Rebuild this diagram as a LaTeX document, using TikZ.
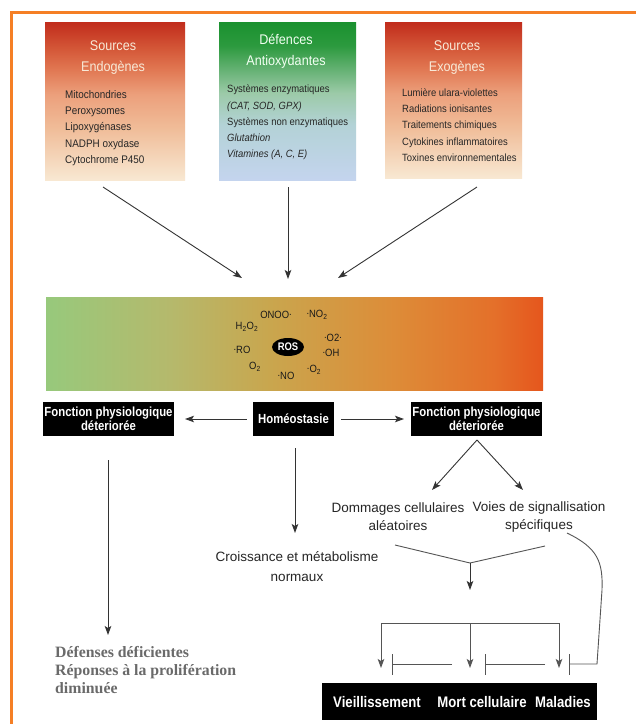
\documentclass[tikz,border=0pt]{standalone}
\usepackage{fontspec}
\setmainfont{Liberation Sans}
\newfontfamily\cond{Liberation Sans}[FakeStretch=0.9]
\newfontfamily\condb{Liberation Sans Bold}[FakeStretch=0.86]
\newfontfamily\serifb{Liberation Serif Bold}
\usetikzlibrary{arrows.meta,shapes.geometric}
\definecolor{orng}{HTML}{F57F25}
\definecolor{ink}{HTML}{333333}
\definecolor{gline}{HTML}{555555}
\definecolor{cream}{HTML}{F8EAD8}
\definecolor{greytxt}{HTML}{6A6A6A}
% source boxes
\definecolor{sA}{HTML}{F8E8D2}
\definecolor{sB}{HTML}{F0BC98}
\definecolor{sC}{HTML}{ECA07C}
\definecolor{sD}{HTML}{E07550}
\definecolor{sE}{HTML}{D35536}
\definecolor{sF}{HTML}{C12C1C}
% antioxidant box
\definecolor{gA}{HTML}{C4D4EE}
\definecolor{gB}{HTML}{B3D2D6}
\definecolor{gC}{HTML}{9CCAA8}
\definecolor{gD}{HTML}{5DAE6C}
\definecolor{gE}{HTML}{2C9A3E}
\definecolor{gF}{HTML}{1A912F}
% bar
\definecolor{bA}{HTML}{97C97C}
\definecolor{bB}{HTML}{B5B96C}
\definecolor{bC}{HTML}{C9A64E}
\definecolor{bD}{HTML}{DD8C38}
\definecolor{bE}{HTML}{E4702A}
\definecolor{bF}{HTML}{E5561D}
\pgfdeclareverticalshading{srcshade}{100bp}{color(0bp)=(sA); color(25bp)=(sA); color(41.5bp)=(sB); color(52bp)=(sC); color(60.5bp)=(sD); color(67bp)=(sE); color(75bp)=(sF); color(100bp)=(sF)}
\pgfdeclareverticalshading{antshade}{100bp}{color(0bp)=(gA); color(25bp)=(gA); color(42.5bp)=(gB); color(52.5bp)=(gC); color(61bp)=(gD); color(67.5bp)=(gE); color(75bp)=(gF); color(100bp)=(gF)}
\pgfdeclarehorizontalshading{barshade}{100bp}{color(0bp)=(bA); color(25bp)=(bA); color(37.5bp)=(bB); color(47.5bp)=(bC); color(60bp)=(bD); color(70bp)=(bE); color(75bp)=(bF); color(100bp)=(bF)}
\newcommand{\rdot}{\raisebox{0.55ex}{.}}
\begin{document}
\begin{tikzpicture}[x=1pt,y=-1pt,
  srcbox/.style={shade, shading=srcshade, minimum width=140pt, minimum height=158pt, inner sep=0pt},
  antbox/.style={shade, shading=antshade, minimum width=137pt, minimum height=158pt, inner sep=0pt},
  barbox/.style={shade, shading=barshade, minimum width=497pt, minimum height=93pt, inner sep=0pt},
  ttl/.style={font=\cond\fontsize{14}{21.5}\selectfont, text=cream, align=center, inner sep=0pt},
  lst/.style={font=\cond\fontsize{10.5}{16.2}\selectfont, align=left, anchor=west, text=black!85, inner sep=0pt},
  blk/.style={fill=black, text=white, font=\condb\fontsize{13.2}{13.5}\selectfont, align=center, inner sep=0pt, minimum height=34pt},
  ros/.style={font=\cond\fontsize{10.5}{11}\selectfont, inner sep=0pt, text=black!90},
  plain/.style={font=\fontsize{13.5}{18}\selectfont, align=center, inner sep=0pt, text=black!85},
  arr/.style={draw=ink, line width=0.9pt, -{Stealth[length=9pt,width=6.5pt,inset=2pt]}},
  garr/.style={draw=gline, line width=0.9pt, -{Stealth[length=9pt,width=6.5pt,inset=2pt]}},
  inh/.style={draw=gline, line width=0.9pt, -{Bar[width=21pt,line width=1pt]}},
  ln/.style={draw=gline, line width=0.9pt}]
\useasboundingbox (0,0) rectangle (636,724);
\fill[white] (0,0) rectangle (636,724);
\draw[orng, line width=3pt] (636,12) -- (11,12) -- (11,724);

% top boxes
\node[srcbox] (endo) at (115,101) {};
\node[antbox] (anti) at (287.5,101) {};
\node[srcbox, minimum width=137pt, minimum height=156pt] (exo) at (453.5,100) {};

\node[ttl] (endoT) at (113,57.5) {Sources\\Endogènes};
\node[lst, font=\cond\fontsize{11}{16.2}\selectfont] (endoL) at (65,128) {Mitochondries\\Peroxysomes\\Lipoxygénases\\NADPH oxydase\\Cytochrome P450};
\node[ttl, text=white!95!green] (antiT) at (286,51.5) {Défences\\Antioxydantes};
\node[lst] (antiL) at (227,122.6) {Systèmes enzymatiques\\\textit{(CAT, SOD, GPX)}\\Systèmes non enzymatiques\\\textit{Glutathion}\\\textit{Vitamines (A, C, E)}};
\node[ttl] (exoT) at (457,57.5) {Sources\\Exogènes};
\node[lst] (exoL) at (402,125) {Lumière ulara-violettes\\Radiations ionisantes\\Traitements chimiques\\Cytokines inflammatoires\\Toxines environnementales};

% arrows to bar
\coordinate (a1s) at (103,187); \coordinate (a1e) at (242,278);
\coordinate (a2s) at (288,187); \coordinate (a2e) at (288,279);
\coordinate (a3s) at (477,187); \coordinate (a3e) at (338,278);
\draw[arr] (a1s) -- (a1e);
\draw[arr] (a2s) -- (a2e);
\draw[arr] (a3s) -- (a3e);

% bar
\node[barbox] (bar) at (294.5,343.5) {};
\node[ellipse, fill=black, minimum width=32pt, minimum height=18pt, inner sep=0pt, text=white, font=\condb\fontsize{11}{11}\selectfont] (ros) at (288,347) {ROS};
\node[ros] (r1) at (276,315) {ONOO\rdot};
\node[ros] (r2) at (317,315) {\rdot NO\textsubscript{2}};
\node[ros] (r3) at (247,327) {H\textsubscript{2}O\textsubscript{2}};
\node[ros] (r4) at (333,338) {\rdot O2\rdot};
\node[ros] (r5) at (242,350) {\rdot RO};
\node[ros] (r6) at (331,353) {\rdot OH};
\node[ros] (r7) at (255,367) {O\textsubscript{2}};
\node[ros] (r8) at (286,376) {\rdot NO};
\node[ros] (r9) at (314,370) {\rdot O\textsubscript{2}};

% middle row
\node[blk, minimum width=131pt] (fpL) at (108.5,419) {Fonction physiologique\\déteriorée};
\node[blk, minimum width=81pt] (homeo) at (293.5,419) {Homéostasie};
\node[blk, minimum width=131pt] (fpR) at (476.5,419) {Fonction physiologique\\déteriorée};
\draw[arr] (homeo.west) ++(-6,0) coordinate (hl) (hl) -- (fpL.east -| 185,0);
\draw[arr] (homeo.east) ++(7,0) coordinate (hr) (hr) -- (fpR.west -| 404,0);

\node[plain] (dom) at (398,517) {Dommages cellulaires\\aléatoires};
\node[plain] (voies) at (539,517) {Voies de signallisation\\spécifiques};
\node[plain, font=\fontsize{13.5}{20}\selectfont] (crois) at (297,567) {Croissance et métabolisme\\normaux};

\coordinate (hd) at (295,448); \coordinate (hde) at (295,533);
\draw[arr] (hd) -- (hde);
\coordinate (fs) at (477,440);
\coordinate (fl) at (432,490); \coordinate (fr) at (523,490);
\draw[arr] (fs) -- (fl);
\draw[arr] (fs) -- (fr);

% left branch
\coordinate (ls) at (108,460); \coordinate (le) at (108,635);
\draw[arr] (ls) -- (le);
\node[font=\serifb\fontsize{15.8}{18}\selectfont, text=greytxt, align=left, anchor=west, inner sep=0pt] (def) at (55,670) {Défenses déficientes\\Réponses à la prolifération\\diminuée};

% merge
\coordinate (mL) at (395,545); \coordinate (mR) at (545,546);
\coordinate (mP) at (470,563); \coordinate (mT) at (470,590);
\draw[ln] (mL) -- (mP) -- (mR);
\draw[arr] (mP) -- (mT);

% bracket
\coordinate (bM) at (470,623);
\coordinate (tL) at (381,668); \coordinate (tM) at (470,668); \coordinate (tR) at (559,668);
\draw[garr] (bM) -- (tM);
\draw[garr] (bM) -| (tL);
\draw[garr] (bM) -| (tR);

% inhibitors
\coordinate (i1s) at (452,664); \coordinate (i1e) at (392,664);
\coordinate (i2s) at (545,664); \coordinate (i2e) at (485,664);
\draw[inh] (i1s) -- (i1e);
\draw[inh] (i2s) -- (i2e);
\coordinate (c0) at (567,533); \coordinate (c1) at (602,590); \coordinate (c2) at (597,664); \coordinate (i3e) at (569,664);
\draw[inh] (c0) .. controls (598,548) and (603,562) .. (c1) -- (c2) -- (i3e);

% bottom box
\node[fill=black, minimum width=275pt, minimum height=37pt, inner sep=0pt] (bot) at (459.5,701.5) {};
\node[font=\condb\fontsize{15.3}{15}\selectfont, text=white, inner sep=0pt] (v1) at (377,702) {Vieillissement};
\node[font=\condb\fontsize{15.3}{15}\selectfont, text=white, inner sep=0pt] (v2) at (482,702) {Mort cellulaire};
\node[font=\condb\fontsize{15.3}{15}\selectfont, text=white, inner sep=0pt] (v3) at (563,702) {Maladies};
\end{tikzpicture}
\end{document}
